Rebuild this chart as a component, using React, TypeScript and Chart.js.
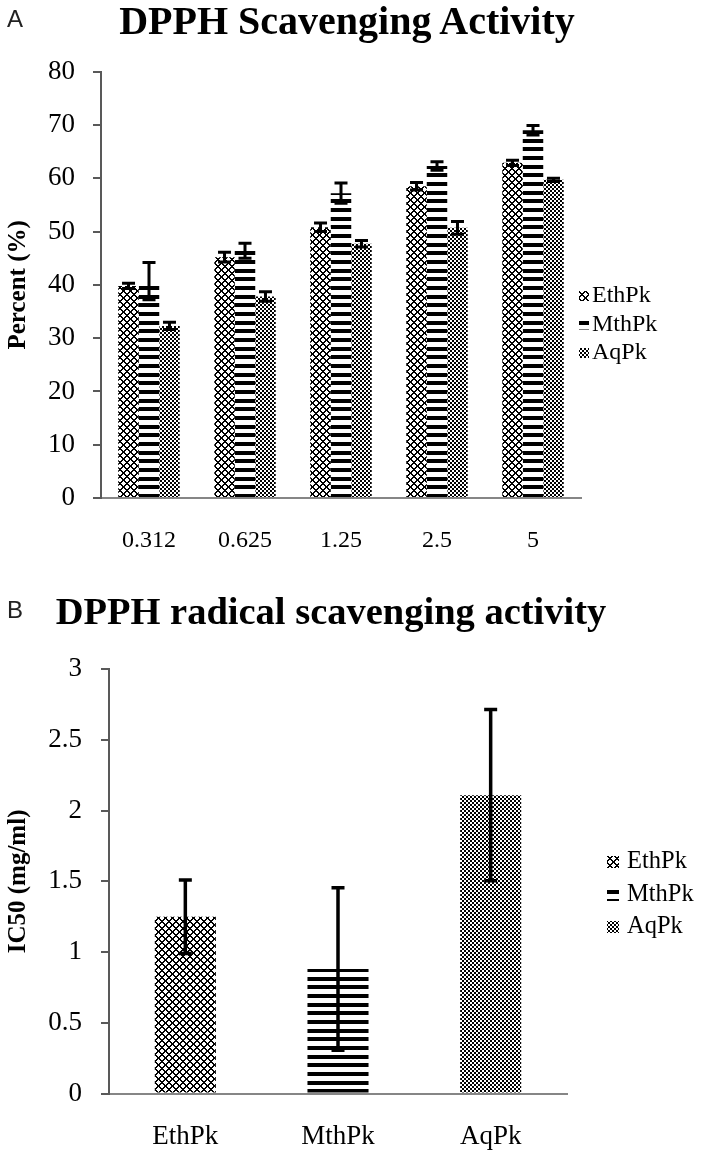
import React, { useEffect, useRef } from 'react';
import { Chart, registerables } from 'chart.js';

Chart.register(...registerables);

// ---------- Panel A: DPPH scavenging activity (%) ----------
const concentrationLabels = ['0.312', '0.625', '1.25', '2.5', '5'];
const seriesLabels = ['EthPk', 'MthPk', 'AqPk'];
const ethPkPercent = [39.8, 45.2, 50.8, 58.5, 62.9];
const ethPkPercentErr = [0.5, 0.9, 0.8, 0.7, 0.5];
const mthPkPercent = [40.7, 46.4, 57.2, 62.3, 69.0];
const mthPkPercentErr = [3.5, 1.4, 1.9, 0.8, 0.9];
const aqPkPercent = [32.3, 37.8, 47.7, 50.7, 59.7];
const aqPkPercentErr = [0.7, 0.9, 0.6, 1.2, 0.3];
const percentTickLabels = ['0', '10', '20', '30', '40', '50', '60', '70', '80'];

// ---------- Panel B: IC50 (mg/ml) ----------
const extractLabels = ['EthPk', 'MthPk', 'AqPk'];
const ic50Values = [1.25, 0.88, 2.11];
const ic50Errors = [0.26, 0.575, 0.605];
const ic50TickLabels = ['0', '0.5', '1', '1.5', '2', '2.5', '3'];

const SERIF = '"Liberation Serif", "Times New Roman", serif';

function makeTile(w: number, h: number, isBlack: (x: number, y: number) => boolean) {
  const c = document.createElement('canvas');
  c.width = w;
  c.height = h;
  const g = c.getContext('2d')!;
  const img = g.createImageData(w, h);
  for (let y = 0; y < h; y++) {
    for (let x = 0; x < w; x++) {
      const i = (y * w + x) * 4;
      const v = isBlack(x, y) ? 0 : 255;
      img.data[i] = v;
      img.data[i + 1] = v;
      img.data[i + 2] = v;
      img.data[i + 3] = 255;
    }
  }
  g.putImageData(img, 0, 0);
  return c;
}

function makePatterns(ctx: CanvasRenderingContext2D) {
  const lattice = makeTile(7, 7, (x, y) => (((x - y) % 7) + 7) % 7 < 2 || (x + y) % 7 < 2);
  const stripes = makeTile(4, 26, (_x, y) => (y >= 0 && y < 4) || (y >= 9 && y < 13) || (y >= 17 && y < 21));
  const checker = makeTile(4, 4, (x, y) => ((x >> 1) + (y >> 1)) % 2 === 0);
  return [
    ctx.createPattern(lattice, 'repeat')!,
    ctx.createPattern(stripes, 'repeat')!,
    ctx.createPattern(checker, 'repeat')!,
  ];
}

const errorBarsPlugin = {
  id: 'errorBars',
  afterDatasetsDraw(chart: any, _args: any, opts: any) {
    const ctx = chart.ctx as CanvasRenderingContext2D;
    const yScale = chart.scales.y;
    chart.data.datasets.forEach((ds: any, di: number) => {
      const meta = chart.getDatasetMeta(di);
      meta.data.forEach((bar: any, i: number) => {
        const v = ds.data[i];
        const e = ds.errors[i];
        const yTop = yScale.getPixelForValue(v + e);
        const yBot = yScale.getPixelForValue(v - e);
        const x = bar.x;
        const half = opts.capWidth / 2;
        ctx.save();
        ctx.strokeStyle = '#000';
        ctx.lineWidth = opts.lineWidth;
        ctx.beginPath();
        ctx.moveTo(x, yTop);
        ctx.lineTo(x, yBot);
        ctx.moveTo(x - half, yTop);
        ctx.lineTo(x + half, yTop);
        ctx.moveTo(x - half, yBot);
        ctx.lineTo(x + half, yBot);
        ctx.stroke();
        ctx.restore();
      });
    });
  },
};

const sideLegendPlugin = {
  id: 'sideLegend',
  afterDraw(chart: any, _args: any, opts: any) {
    const ctx = chart.ctx as CanvasRenderingContext2D;
    const datasets = chart.data.datasets;
    const items =
      datasets.length > 1
        ? datasets.map((d: any) => ({ text: d.label, fill: d.backgroundColor }))
        : chart.data.labels.map((l: string, i: number) => ({ text: l, fill: datasets[0].backgroundColor[i] }));
    ctx.save();
    ctx.font = `${opts.fontSize}px ${SERIF}`;
    ctx.textBaseline = 'middle';
    ctx.textAlign = 'left';
    items.forEach((it: any, i: number) => {
      const cy = opts.rowY[i];
      ctx.fillStyle = it.fill;
      ctx.fillRect(opts.boxX, cy - opts.box / 2, opts.box, opts.box);
      ctx.fillStyle = '#000';
      ctx.fillText(it.text, opts.textX, cy);
    });
    ctx.restore();
  },
};

function tickFrom(labels: string[]) {
  return (value: any) => {
    const t = labels.find((s) => Number(s) === Number(value));
    return t === undefined ? '' : t;
  };
}

export default function App() {
  const refA = useRef<HTMLCanvasElement>(null);
  const refB = useRef<HTMLCanvasElement>(null);

  useEffect(() => {
    Chart.defaults.font.family = SERIF;
    Chart.defaults.color = '#000';

    const patsA = makePatterns(refA.current!.getContext('2d')!);
    const valuesA = [ethPkPercent, mthPkPercent, aqPkPercent];
    const errorsA = [ethPkPercentErr, mthPkPercentErr, aqPkPercentErr];

    const chartA = new Chart(refA.current!, {
      type: 'bar',
      data: {
        labels: concentrationLabels,
        datasets: seriesLabels.map((label, i) => ({
          label,
          data: valuesA[i],
          errors: errorsA[i],
          backgroundColor: patsA[i],
          borderWidth: 0,
          categoryPercentage: 0.64,
          barPercentage: 1,
        })) as any,
      },
      plugins: [errorBarsPlugin, sideLegendPlugin],
      options: {
        responsive: false,
        animation: false,
        layout: { padding: { left: 0, right: 125, top: 71.7, bottom: 0 } },
        plugins: {
          legend: { display: false },
          tooltip: { enabled: false },
          errorBars: { lineWidth: 3, capWidth: 13 },
          sideLegend: { boxX: 579, textX: 592, box: 10, fontSize: 24, rowY: [296, 324.5, 353] },
        } as any,
        scales: {
          x: {
            grid: { display: false, drawTicks: false },
            border: { display: true, color: '#868686', width: 2 },
            ticks: { color: '#000', font: { size: 24 }, padding: 28, maxRotation: 0 },
            afterFit: (s: any) => {
              s.height = 80;
            },
          },
          y: {
            min: 0,
            max: 80,
            ticks: { stepSize: 10, color: '#000', font: { size: 27 }, padding: 18, callback: tickFrom(percentTickLabels) },
            grid: { drawOnChartArea: false, drawTicks: true, tickLength: 8, color: '#595959', lineWidth: 2 },
            border: { display: true, color: '#595959', width: 2 },
            title: {
              display: true,
              text: 'Percent (%)',
              color: '#000',
              font: { size: 25, weight: 'bold' },
              padding: { top: 4, bottom: 0 },
            },
            afterFit: (s: any) => {
              s.width = 101;
            },
          },
        } as any,
      },
    });

    const patsB = makePatterns(refB.current!.getContext('2d')!);
    const chartB = new Chart(refB.current!, {
      type: 'bar',
      data: {
        labels: extractLabels,
        datasets: [
          {
            label: 'IC50',
            data: ic50Values,
            errors: ic50Errors,
            backgroundColor: patsB,
            borderWidth: 0,
            categoryPercentage: 0.4,
            barPercentage: 1,
          } as any,
        ],
      },
      plugins: [errorBarsPlugin, sideLegendPlugin],
      options: {
        responsive: false,
        animation: false,
        layout: { padding: { left: 0, right: 139, top: 91.3, bottom: 0 } },
        plugins: {
          legend: { display: false },
          tooltip: { enabled: false },
          errorBars: { lineWidth: 3.5, capWidth: 13 },
          sideLegend: { boxX: 607, textX: 627, box: 12, fontSize: 24.5, rowY: [284, 317, 349] },
        } as any,
        scales: {
          x: {
            grid: { display: false, drawTicks: false },
            border: { display: true, color: '#868686', width: 2 },
            ticks: { color: '#000', font: { size: 27 }, padding: 27, maxRotation: 0 },
            afterFit: (s: any) => {
              s.height = 61.5;
            },
          },
          y: {
            min: 0,
            max: 3,
            ticks: { stepSize: 0.5, color: '#000', font: { size: 27 }, padding: 19, callback: tickFrom(ic50TickLabels) },
            grid: { drawOnChartArea: false, drawTicks: true, tickLength: 8, color: '#595959', lineWidth: 2 },
            border: { display: true, color: '#595959', width: 2 },
            title: {
              display: true,
              text: 'IC50 (mg/ml)',
              color: '#000',
              font: { size: 25, weight: 'bold' },
              padding: { top: 4, bottom: 0 },
            },
            afterFit: (s: any) => {
              s.width = 109;
            },
          },
        } as any,
      },
    });

    return () => {
      chartA.destroy();
      chartB.destroy();
    };
  }, []);

  const titleStyle = (top: number, width: number, size: number): React.CSSProperties => ({
    position: 'absolute',
    left: 0,
    width,
    top,
    textAlign: 'center',
    fontFamily: SERIF,
    fontWeight: 'bold',
    fontSize: size,
    lineHeight: `${size}px`,
    color: '#000',
    whiteSpace: 'nowrap',
  });
  const letterStyle = (top: number): React.CSSProperties => ({
    position: 'absolute',
    left: 7,
    top,
    fontFamily: '"Liberation Sans", Arial, sans-serif',
    fontSize: 24,
    lineHeight: '24px',
    color: '#222',
  });

  return (
    <div style={{ position: 'absolute', left: 0, top: 0, width: 706, height: 1155, background: '#fff', overflow: 'hidden' }}>
      <canvas ref={refA} width={706} height={578} style={{ position: 'absolute', left: 0, top: 0, display: 'block' }} />
      <canvas ref={refB} width={706} height={577} style={{ position: 'absolute', left: 0, top: 578, display: 'block' }} />
      <div style={titleStyle(0.5, 694, 40)}>DPPH Scavenging Activity</div>
      <div style={titleStyle(592, 662, 38.5)}>DPPH radical scavenging activity</div>
      <div style={letterStyle(7)}>A</div>
      <div style={letterStyle(598)}>B</div>
    </div>
  );
}
